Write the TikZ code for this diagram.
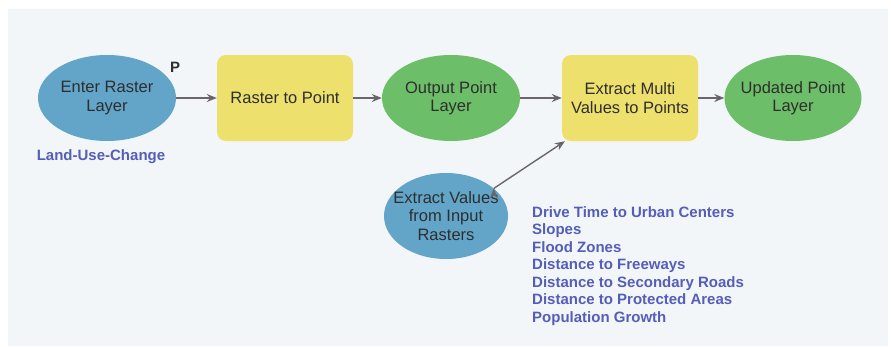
\documentclass[tikz,border=0pt]{standalone}
\usepackage{fontspec}
\setmainfont{Liberation Sans}
\usetikzlibrary{positioning,shapes.geometric,arrows.meta}

\definecolor{panelgray}{HTML}{F3F6F8}
\definecolor{layerblue}{HTML}{62A5C8}
\definecolor{layergreen}{HTML}{6DBE68}
\definecolor{toolyellow}{HTML}{EEE06C}
\definecolor{nodetext}{HTML}{2E2E2E}
\definecolor{paramtext}{HTML}{545EBA}
\definecolor{flowgray}{HTML}{6B666B}

\begin{document}
\begin{tikzpicture}[x=1pt,y=-1pt,on grid,auto,>={Stealth[length=10pt,width=8pt]}]
    \tikzset{layer/.style={ellipse,inner sep=-14pt,minimum width=138pt,minimum height=86pt,
        text=nodetext,align=center,font=\fontsize{16.5}{18.5}\selectfont}}
    \tikzset{tool/.style={rectangle,rounded corners=9pt,fill=toolyellow,inner sep=0pt,
        minimum width=136pt,minimum height=86pt,text=nodetext,align=center,
        font=\fontsize{16.5}{18.5}\selectfont}}
    \tikzset{param/.style={text=paramtext,align=left,inner sep=0pt,
        font=\bfseries\fontsize{15}{17.5}\selectfont}}
    \useasboundingbox (0,0) rectangle (891,346);
    \fill[panelgray] (8,9) rectangle (888,346);

    \node[layer,fill=layerblue] (enter) at (107,98) {Enter Raster\\Layer};
    \node[tool] (rtp) [right = 178pt of enter] {Raster to Point};
    \node[layer,fill=layergreen] (opl) [right = 166pt of rtp] {Output Point\\Layer};
    \node[tool] (emv) [right = 179pt of opl] {Extract Multi\\Values to Points};
    \node[layer,fill=layergreen,minimum width=137pt] (upl) [right = 163pt of emv] {Updated Point\\Layer};
    \node[layer,fill=layerblue,minimum width=124pt]
        (evr) [below = 118pt of opl, xshift=-5pt] {Extract Values\\from Input\\Rasters};

    \node[param,text=nodetext] (pflag) [above right = 31pt and 68pt of enter] {P};
    \node[param] (landuse) [below = 59pt of enter, xshift=-6pt] {Land-Use-Change};
    \node[param,anchor=north west] (rasters) at (532,206) {Drive Time to Urban Centers\\
        Slopes\\Flood Zones\\Distance to Freeways\\Distance to Secondary Roads\\
        Distance to Protected Areas\\Population Growth};

    \path[->,draw=flowgray,line width=1.4pt]
    (enter) edge (rtp)
    (rtp) edge (opl)
    (opl) edge (emv)
    (emv) edge (upl)
    (evr.30) edge (emv)
    ;
\end{tikzpicture}
\end{document}
